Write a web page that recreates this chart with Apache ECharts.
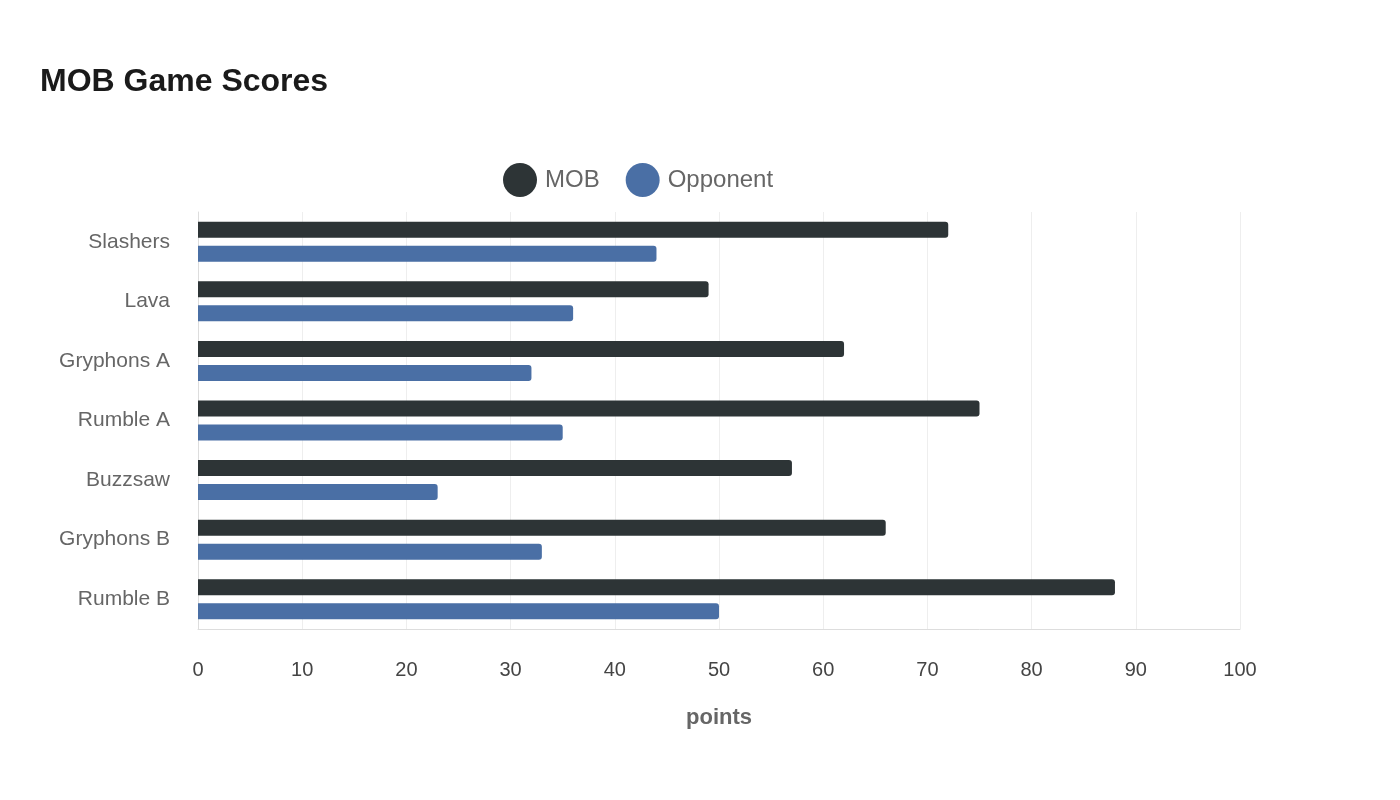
<!DOCTYPE html>
<html>
<head>
<meta charset="utf-8">
<script src="https://cdn.jsdelivr.net/npm/echarts@6/dist/echarts.min.js"></script>
<style>
  html, body { margin: 0; padding: 0; background: #fff; }
  #chart { width: 1400px; height: 800px; }
</style>
</head>
<body>
<div id="chart"></div>
<script>
// team names, top to bottom
const teams = ['Slashers', 'Lava', 'Gryphons A', 'Rumble A', 'Buzzsaw', 'Gryphons B', 'Rumble B'];
const mobScores = [72, 49, 62, 75, 57, 66, 88];
const opponentScores = [44, 36, 32, 35, 23, 33, 50];
const xTicks = [0, 100, 10];

const font = "'Liberation Sans', Arial, sans-serif";
const myChart = echarts.init(document.getElementById('chart'));

const option = {
    backgroundColor: '#fff',
    textStyle: { fontFamily: font },
    title: {
        text: 'MOB Game Scores',
        left: 35,
        top: 61,
        textStyle: { fontSize: 32, fontWeight: 'bold', color: '#1a1a1a', fontFamily: font }
    },
    legend: {
        data: ['MOB', 'Opponent'],
        top: 158,
        left: 498,
        icon: 'circle',
        itemWidth: 34,
        itemHeight: 34,
        itemGap: 26,
        textStyle: { fontSize: 24, color: '#666', fontFamily: font, padding: [0, 0, 0, 3] }
    },
    grid: {
        left: 198,
        right: 160,
        top: 212,
        bottom: 171
    },
    xAxis: {
        type: 'value',
        min: xTicks[0],
        max: xTicks[1],
        interval: xTicks[2],
        name: 'points',
        nameLocation: 'middle',
        nameGap: 78,
        nameTextStyle: { fontSize: 22, fontWeight: 'bold', color: '#666', fontFamily: font },
        axisLine: { show: true, lineStyle: { color: '#ddd' } },
        axisTick: { show: false },
        axisLabel: { fontSize: 20, color: '#444', margin: 31, fontFamily: font },
        splitLine: { show: true, lineStyle: { color: '#eee' } }
    },
    yAxis: {
        type: 'category',
        data: teams,
        inverse: true,
        axisLine: { show: true, lineStyle: { color: '#ddd' } },
        axisTick: { show: false },
        axisLabel: { fontSize: 21, color: '#666', margin: 28, fontFamily: font }
    },
    series: [{
        name: 'MOB',
        type: 'bar',
        data: mobScores,
        barWidth: 16,
        barGap: '50%',
        itemStyle: { color: '#2d3436', borderRadius: [0, 3, 3, 0] }
    }, {
        name: 'Opponent',
        type: 'bar',
        data: opponentScores,
        barWidth: 16,
        itemStyle: { color: '#4a6fa5', borderRadius: [0, 3, 3, 0] }
    }]
};

myChart.setOption(option);
</script>
</body>
</html>
